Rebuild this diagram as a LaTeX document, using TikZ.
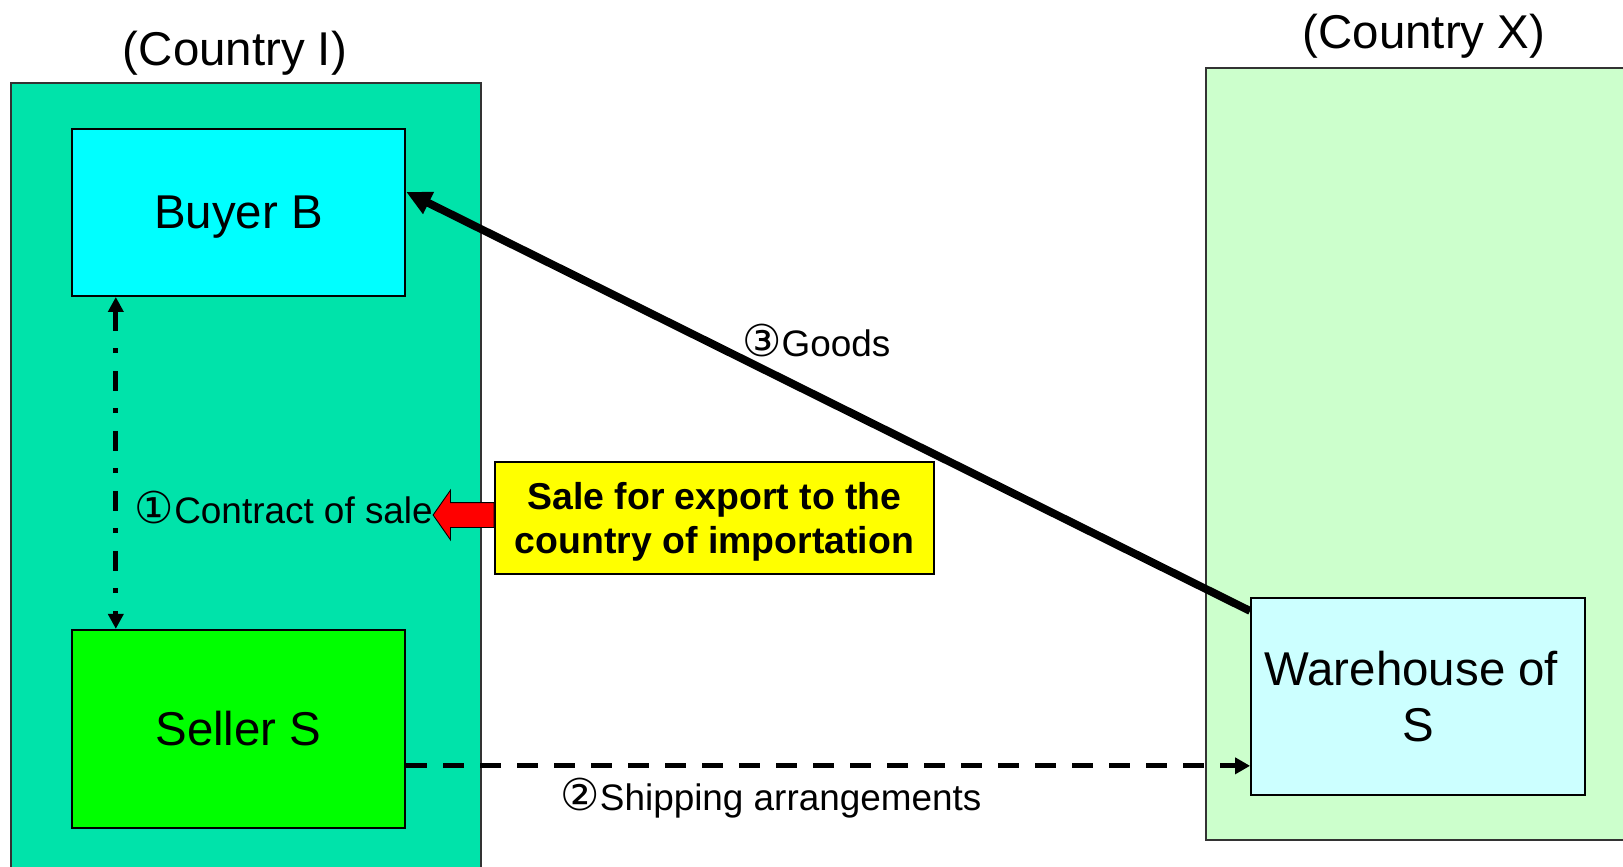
\documentclass[tikz,border=0pt]{standalone}
\usepackage{fontspec}
\setmainfont{Liberation Sans}
\newfontfamily\circfont{DejaVu Sans}
\newcommand\circnum[1]{{\circfont\fontsize{25}{25}\selectfont #1}}
\usetikzlibrary{positioning,calc,arrows.meta,shapes.arrows}
\definecolor{regionI}{RGB}{0,227,170}
\definecolor{regionX}{RGB}{204,255,204}
\definecolor{buyercol}{RGB}{0,255,255}
\definecolor{sellercol}{RGB}{0,255,0}
\definecolor{housecol}{RGB}{204,255,255}
\definecolor{notecol}{RGB}{255,255,0}

\begin{document}
\begin{tikzpicture}[x=0.02cm, y=-0.02cm,
  region/.style={draw=black!80, line width=0.7pt, inner sep=0pt},
  party/.style={draw=black, line width=1.1pt, minimum width=6.67cm, align=center,
    font=\fontsize{27}{32}\selectfont},
  title/.style={anchor=base, inner sep=0pt, font=\fontsize{27}{32}\selectfont},
  lbl/.style={inner sep=0pt, font=\fontsize{21}{25}\selectfont},
  sale link/.style={line width=3pt, dash pattern=on 0.4cm off 0.34cm on 0.1cm off 0.36cm,
    {Triangle[length=0.3cm,width=0.3cm]}-{Triangle[length=0.3cm,width=0.3cm]}},
  ship link/.style={line width=2.8pt, dash pattern=on 0.42cm off 0.32cm,
    -{Triangle[length=0.3cm,width=0.32cm]}},
  goods link/.style={line width=4.5pt, -{Triangle[length=0.5cm,width=0.46cm]}}]
  \useasboundingbox (0,0) rectangle (1623,866);
  % the two countries
  \node [region, fill=regionI, minimum width=9.4cm, minimum height=16.32cm] (countryI) at (246,491) {};
  \node [region, fill=regionX, minimum width=9.08cm, minimum height=15.44cm] (countryX) at (1433,454) {};
  \node [title] (titleI) at (235,65) {(Country I)};
  \node [title] (titleX) at (1424,48) {(Country X)};
  % parties
  \node [party, fill=buyercol, minimum height=3.34cm, text depth=0pt] (buyer) at (238.5,212.5) {Buyer B};
  \node [party, fill=sellercol, minimum height=3.96cm, below=6.64cm of buyer] (seller) {Seller S};
  \node [party, fill=housecol, minimum width=6.68cm, minimum height=3.94cm] (warehouse) at (1418,696.5)
    {Warehouse of\hspace*{0.28em}\\S};
  \node [draw=black, line width=1.1pt, fill=notecol, minimum width=8.78cm, minimum height=2.24cm,
    align=center, text depth=0pt, font=\fontsize{21.3}{25}\selectfont\bfseries] (note) at (714.5,518)
    {Sale for export to the\\country of importation};
  \node [single arrow, shape border rotate=180, draw=black, line width=0.5pt, fill=red,
    inner xsep=0pt, inner ysep=0.24cm, outer sep=0pt, minimum height=1.22cm,
    single arrow head extend=0.25cm, single arrow tip angle=110, anchor=tail]
    (redarrow) at ($(note.west)+(0,-3)$) {};
  \node [lbl, anchor=base east] (contract) at ($(redarrow.tip)+(0,8)$) {\circnum{①}Contract of sale};
  % connectors
  \draw [sale link] ($(buyer.south west)+(45,0)$) -- ($(seller.north west)+(45,0)$);
  \coordinate (shipstart) at ($(seller.east)+(0,37)$);
  \draw [ship link] (shipstart) -- (shipstart -| warehouse.west);
  \node [lbl, anchor=base] (shiplbl) at (771,810) {\circnum{②}Shipping arrangements};
  \draw [goods link] (warehouse.153) -- (buyer.7);
  \node [lbl, anchor=base west] (goodslbl) at (742,356) {\circnum{③}Goods};
\end{tikzpicture}
\end{document}
